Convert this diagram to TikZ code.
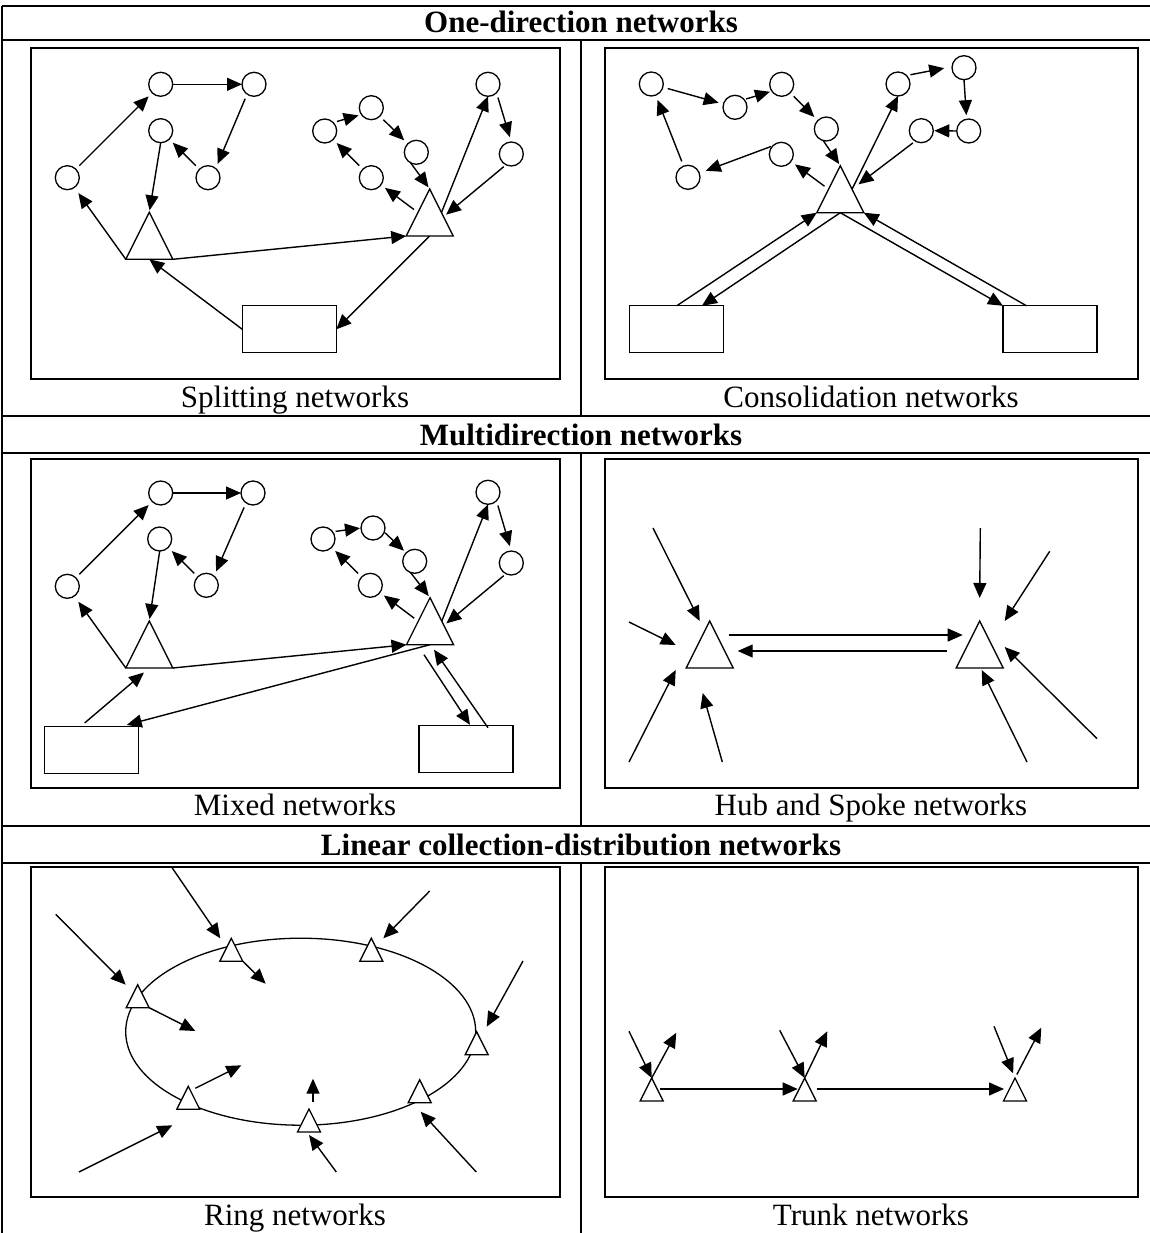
\documentclass[tikz,border=0pt]{standalone}
\usepackage{fontspec}
\setmainfont{Liberation Serif}
\usetikzlibrary{shapes.geometric, arrows.meta}

\tikzset{
  stop/.style={draw, circle, line width=1.3pt, minimum size=24pt, inner sep=0pt, outer sep=0pt},
  hubtri/.style={draw, fill=white, isosceles triangle, isosceles triangle stretches, shape border rotate=90,
    minimum width=47pt, minimum height=47pt, inner sep=0pt, outer sep=0pt, line width=1.3pt, anchor=lower side},
  mintri/.style={hubtri, minimum width=23pt, minimum height=23pt},
  depot/.style={draw, rectangle, minimum width=94pt, minimum height=47pt, line width=1.3pt, inner sep=0pt, outer sep=0pt},
  ringline/.style={draw, ellipse, minimum width=350pt, minimum height=187pt, inner sep=0pt, line width=1.3pt},
  flow/.style={-{Triangle[length=15pt,width=13pt]}, line width=1.4pt},
  gap/.style={shorten <=5pt, shorten >=5pt},
  boxline/.style={line width=1.6pt},
  tablerule/.style={line width=2.5pt},
  caption/.style={anchor=base, inner sep=0pt, font=\fontsize{31}{36}\selectfont},
  header/.style={anchor=base, inner sep=0pt, font=\fontsize{31}{36}\selectfont\bfseries}
}

\begin{document}
\begin{tikzpicture}[x=1pt, y=-1pt]
  \useasboundingbox (0,0) rectangle (1150,1233);

  \foreach \ry in {6, 40, 416, 453, 826, 863}
    \draw[tablerule] (2,\ry) -- (1150,\ry);
  \draw[tablerule] (2,6) -- (2,1233);
  \draw[tablerule] (581,40) -- (581,416);
  \draw[tablerule] (581,453) -- (581,826);
  \draw[tablerule] (581,863) -- (581,1233);

  \draw[boxline] (31,48) rectangle (560,379);
  \draw[boxline] (605,48) rectangle (1138,379);
  \draw[boxline] (31,459) rectangle (560,788);
  \draw[boxline] (605,459) rectangle (1138,788);
  \draw[boxline] (31,867) rectangle (560,1197);
  \draw[boxline] (605,867) rectangle (1138,1197);

  \node[header] (hd1) at (581,33) {One-direction networks};
  \node[caption] (cap1) at (295,407) {Splitting networks};
  \node[caption] (cap2) at (871,407) {Consolidation networks};
  \node[header] (hd2) at (581,445) {Multidirection networks};
  \node[caption] (cap3) at (295,815) {Mixed networks};
  \node[caption] (cap4) at (871,815) {Hub and Spoke networks};
  \node[header] (hd3) at (581,855) {Linear collection-distribution networks};
  \node[caption] (cap5) at (295,1225) {Ring networks};
  \node[caption] (cap6) at (871,1225) {Trunk networks};

  \node[stop] (sA) at (160.7,84.3) {};
  \node[stop] (sB) at (254,84.3) {};
  \node[stop] (sC) at (160.7,130.7) {};
  \node[stop] (sD) at (208,177.7) {};
  \node[stop] (sE) at (67.3,177.7) {};
  \node[stop] (sF) at (324.7,131) {};
  \node[stop] (sG) at (371.3,107.7) {};
  \node[stop] (sH) at (416.3,152.3) {};
  \node[stop] (sI) at (371.3,177.7) {};
  \node[stop] (sJ) at (488,84.3) {};
  \node[stop] (sK) at (511.3,154) {};
  \node[hubtri] (sT1) at (149.3,259.3) {};
  \node[hubtri] (sT2) at (429.7,236) {};
  \node[depot] (sR) at (289.3,329.3) {};
  \draw[flow,gap] (sE) -- (sA);
  \draw[flow] (sA) -- (sB);
  \draw[flow,gap] (sB.235) -- (sD.50);
  \draw[flow,gap] (sD) -- (sC);
  \draw[flow,shorten >=2pt] (sC.south) -- (sT1.apex);
  \draw[flow,shorten >=7pt] (sT1.left corner) -- (sE);
  \draw[flow] (sT1.right corner) -- (sT2.left corner);
  \draw[flow] (sR.west) -- (sT1.lower side);
  \draw[flow] (sT2.lower side) -- (sR.east);
  \draw[flow,gap] (sT2.left side) -- (sI);
  \draw[flow,gap] (sI) -- (sF);
  \draw[flow,shorten <=4pt,shorten >=3pt] (sF.45) -- (sG.215);
  \draw[flow,gap] (sG) -- (sH);
  \draw[flow,shorten >=2pt] (sH.242) -- (sT2.apex);
  \draw[flow] (sT2.right side) -- (sJ.south);
  \draw[flow,gap] (sJ.-45) -- (sK.north);
  \draw[flow,shorten <=3pt,shorten >=6pt] (sK.244) -- ([yshift=-6pt]sT2.right side);

  \node[stop] (cA) at (651.3,84) {};
  \node[stop] (cB) at (735,107.3) {};
  \node[stop] (cC) at (781.7,84.3) {};
  \node[stop] (cD) at (826.3,129) {};
  \node[stop] (cE) at (781.3,154.3) {};
  \node[stop] (cF) at (688,177.3) {};
  \node[stop] (cG) at (898,84) {};
  \node[stop] (cH) at (964,67.7) {};
  \node[stop] (cI) at (968.7,131) {};
  \node[stop] (cJ) at (921.3,130.7) {};
  \node[hubtri] (cT) at (840.3,212.7) {};
  \node[depot] (cL) at (676.7,329.3) {};
  \node[depot] (cR) at (1050,329.3) {};
  \draw[flow,gap] (cA) -- (cB);
  \draw[flow,shorten <=2pt,shorten >=2pt] (cB.40) -- (cC.215);
  \draw[flow,gap] (cC) -- (cD);
  \draw[flow,shorten >=2pt] (cD.255) -- (cT.apex);
  \draw[flow,gap] (cT.left side) -- (cE);
  \draw[flow,shorten <=2pt,shorten >=7pt] (cE.135) -- (cF.20);
  \draw[flow,gap] (cF) -- (cA);
  \draw[flow] (cT.right side) -- (cG.south);
  \draw[flow,shorten <=4pt,shorten >=8pt] (cG.45) -- (cH.175);
  \draw[flow,shorten >=4pt] (cH.south) -- (cI.100);
  \draw[flow,shorten >=1pt] (cI.west) -- (cJ.east);
  \draw[flow,shorten <=3pt,shorten >=8pt] (cJ.240) -- (cT.right side);
  \draw[flow] (cL.north) -- (cT.left corner);
  \draw[flow] (cT.lower side) -- (cL.43);
  \draw[flow] (cT.lower side) -- (cR.north west);
  \draw[flow] (cR.135) -- (cT.right corner);

  \node[stop] (mA) at (160.7,493) {};
  \node[stop] (mB) at (253,493) {};
  \node[stop] (mC) at (159.7,539) {};
  \node[stop] (mD) at (206.3,585.3) {};
  \node[stop] (mE) at (67.3,586.3) {};
  \node[stop] (mF) at (323,539) {};
  \node[stop] (mG) at (373,528) {};
  \node[stop] (mH) at (414.7,561.3) {};
  \node[stop] (mI) at (370.3,585.3) {};
  \node[stop] (mJ) at (488,492.3) {};
  \node[stop] (mK) at (511.3,563) {};
  \node[hubtri] (mT1) at (149.3,668) {};
  \node[hubtri] (mT2) at (430,644.7) {};
  \node[depot] (mL) at (91.8,749.7) {};
  \node[depot] (mR) at (466,749.3) {};
  \draw[flow,gap] (mE) -- (mA);
  \draw[flow] (mA) -- (mB);
  \draw[flow,gap] (mB.235) -- (mD.50);
  \draw[flow,gap] (mD) -- (mC);
  \draw[flow,shorten >=2pt] (mC.south) -- (mT1.apex);
  \draw[flow,shorten >=7pt] (mT1.left corner) -- (mE);
  \draw[flow] (mT1.right corner) -- (mT2.left corner);
  \draw[flow,gap] (mT2.left side) -- (mI);
  \draw[flow,gap] (mI) -- (mF);
  \draw[flow,shorten <=3pt,shorten >=1pt] (mF.37) -- (mG.west);
  \draw[flow,shorten <=1pt,shorten >=3pt] (mG.-20) -- (mH.135);
  \draw[flow,shorten >=2pt] (mH.250) -- (mT2.apex);
  \draw[flow] (mT2.right side) -- (mJ.south);
  \draw[flow,gap] (mJ.-45) -- (mK.north);
  \draw[flow,shorten <=3pt,shorten >=6pt] (mK.244) -- ([yshift=-6pt]mT2.right side);
  \draw[flow,shorten <=5pt,shorten >=7pt] (mL.115) -- (mT1.lower side);
  \draw[flow,shorten >=5pt] (mT2.lower side) -- (mL.38);
  \draw[flow] ([xshift=-6pt,yshift=-10pt]mT2.lower side) -- ([xshift=4pt,yshift=1pt]mR.north);
  \draw[flow] ([xshift=22pt,yshift=-2pt]mR.north) -- ([xshift=4pt,yshift=-5pt]mT2.lower side);

  \node[hubtri] (hubL) at (709.7,668) {};
  \node[hubtri] (hubR) at (979.7,668) {};
  \coordinate (hin1) at (653,528);
  \coordinate (hin2) at (629,622);
  \coordinate (hin3) at (629,762);
  \coordinate (hin4) at (722.3,762);
  \coordinate (hin5) at (980.3,528);
  \coordinate (hin6) at (1049.7,551.3);
  \coordinate (hin7) at (1097,738.7);
  \coordinate (hin8) at (1027,762);
  \draw[flow] (hin1) -- ([xshift=-10pt,yshift=47pt]hubL.lower side);
  \draw[flow] (hin2) -- ([xshift=-34pt,yshift=23pt]hubL.lower side);
  \draw[flow] (hin3) -- ([xshift=-34pt,yshift=-2pt]hubL.lower side);
  \draw[flow] (hin4) -- ([xshift=-7pt,yshift=-25pt]hubL.lower side);
  \draw[flow] (hin5) -- ([yshift=70pt]hubR.lower side);
  \draw[flow] (hin6) -- ([xshift=25pt,yshift=47pt]hubR.lower side);
  \draw[flow] (hin7) -- ([xshift=25pt,yshift=21pt]hubR.lower side);
  \draw[flow] (hin8) -- ([xshift=2pt,yshift=-2pt]hubR.lower side);
  \draw[flow] ([xshift=19pt,yshift=33pt]hubL.lower side) -- ([xshift=-17pt,yshift=33pt]hubR.lower side);
  \draw[flow] ([xshift=-33pt,yshift=17pt]hubR.lower side) -- ([xshift=28pt,yshift=17pt]hubL.lower side);

  \node[ringline] (ring) at (300.7,1031.7) {};
  \node[mintri] (r1) at (231.3,961.3) {};
  \node[mintri] (r2) at (371.3,961.3) {};
  \node[mintri] (r3) at (137.7,1007.7) {};
  \node[mintri] (r4) at (476.7,1054.7) {};
  \node[mintri] (r5) at (188.3,1109.3) {};
  \node[mintri] (r6) at (309,1132) {};
  \node[mintri] (r7) at (419.7,1102.7) {};
  \coordinate (rin1) at (55.7,914.3);
  \coordinate (rin2) at (172.3,868);
  \coordinate (rin3) at (429.7,891);
  \coordinate (rin4) at (523,961);
  \coordinate (rin5) at (476.3,1172);
  \coordinate (rin6) at (336.3,1172);
  \coordinate (rin7) at (79,1172);
  \coordinate (rout1) at (195.3,1031);
  \coordinate (rout2) at (265.7,983.7);
  \coordinate (rout3) at (241.3,1065.3);
  \coordinate (rout4) at (313,1078.7);
  \draw[flow] (rin1) -- ([xshift=-12pt,yshift=23pt]r3.lower side);
  \draw[flow] (rin2) -- ([xshift=-11pt,yshift=23pt]r1.lower side);
  \draw[flow] (rin3) -- ([xshift=12pt,yshift=23pt]r2.lower side);
  \draw[flow] (rin4) -- ([xshift=10pt,yshift=28pt]r4.lower side);
  \draw[flow] (rin5) -- ([xshift=1pt,yshift=-9pt]r7.lower side);
  \draw[flow] (rin6) -- ([yshift=-3pt]r6.lower side);
  \draw[flow] (rin7) -- ([xshift=-16pt,yshift=-16pt]r5.lower side);
  \draw[flow] (r3.right corner) -- (rout1);
  \draw[flow] (r1.right corner) -- (rout2);
  \draw[flow] ([xshift=7pt,yshift=21pt]r5.lower side) -- (rout3);
  \draw[flow] ([xshift=4pt,yshift=30pt]r6.lower side) -- (rout4);

  \node[mintri] (k1) at (651.7,1101) {};
  \node[mintri] (k2) at (804.7,1101) {};
  \node[mintri] (k3) at (1015,1101) {};
  \coordinate (kin1) at (629,1031.3);
  \coordinate (kout1) at (676.3,1032.7);
  \coordinate (kin2) at (779.7,1030.3);
  \coordinate (kout2) at (827.3,1031.3);
  \coordinate (kin3) at (994,1026.3);
  \coordinate (kout3) at (1041.3,1027.7);
  \draw[flow] ([xshift=8pt,yshift=12pt]k1.lower side) -- ([xshift=-7pt,yshift=12pt]k2.lower side);
  \draw[flow] ([xshift=12pt,yshift=12pt]k2.lower side) -- ([xshift=-11pt,yshift=12pt]k3.lower side);
  \draw[flow] (kin1) -- (k1.apex);
  \draw[flow] (k1.apex) -- (kout1);
  \draw[flow] (kin2) -- (k2.apex);
  \draw[flow] (k2.apex) -- (kout2);
  \draw[flow,shorten >=5pt] (kin3) -- (k3.apex);
  \draw[flow,shorten <=4pt] (k3.apex) -- (kout3);
\end{tikzpicture}
\end{document}
